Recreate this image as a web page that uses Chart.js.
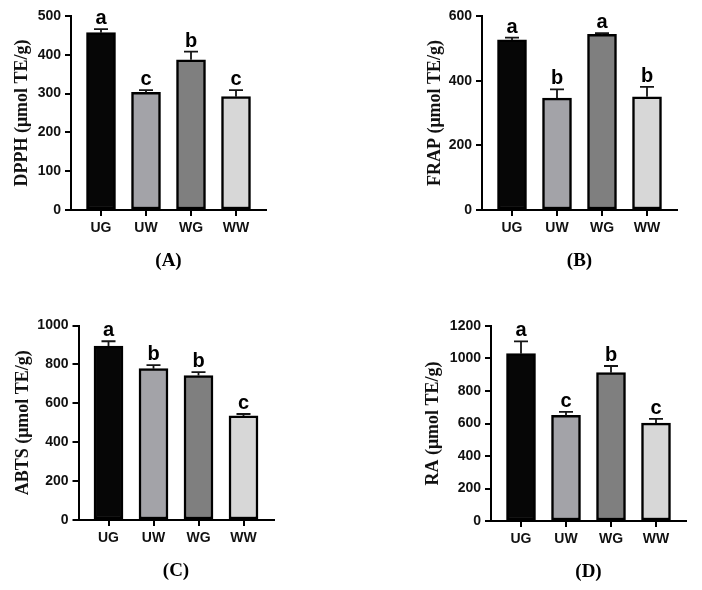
<!DOCTYPE html>
<html>
<head>
<meta charset="utf-8">
<script src="https://cdn.jsdelivr.net/npm/chart.js@4.4.0/dist/chart.umd.min.js"></script>
<style>
  body { margin: 0; background: #fff; }
  #wrap { position: relative; width: 702px; height: 590px; }
  canvas { position: absolute; }
</style>
</head>
<body>
<div id="wrap">
  <canvas id="chartA" width="351" height="295" style="left:0;top:0"></canvas>
  <canvas id="chartB" width="351" height="295" style="left:351px;top:0"></canvas>
  <canvas id="chartC" width="351" height="295" style="left:0;top:295px"></canvas>
  <canvas id="chartD" width="351" height="295" style="left:351px;top:295px"></canvas>
</div>
<script>
// data
const groups = ['UG', 'UW', 'WG', 'WW'];
const barColors = ['#060606', '#a3a3a8', '#7f7f7f', '#d7d7d7'];

const dpph = [457, 303, 387, 292];
const dpphErr = [9, 6, 21, 17];
const dpphLetters = ['a', 'c', 'b', 'c'];
const dpphTicks = [0, 100, 200, 300, 400, 500];

const frap = [526, 346, 543, 350];
const frapErr = [7, 27, 4, 31];
const frapLetters = ['a', 'b', 'a', 'b'];
const frapTicks = [0, 200, 400, 600];

const abts = [894, 778, 743, 535];
const abtsErr = [25, 18, 17, 10];
const abtsLetters = ['a', 'b', 'b', 'c'];
const abtsTicks = [0, 200, 400, 600, 800, 1000];

const ra = [1030, 650, 913, 602];
const raErr = [75, 21, 41, 27];
const raLetters = ['a', 'c', 'b', 'c'];
const raTicks = [0, 200, 400, 600, 800, 1000, 1200];

const sansBold = '"Liberation Sans", Arial, sans-serif';
const serifBold = '"Liberation Serif", "Times New Roman", serif';
const titleSize = 18;

function errorPlugin(values, errs, letters, panel) {
  return {
    id: 'errorBars',
    afterDatasetsDraw(chart) {
      const ctx = chart.ctx;
      const y = chart.scales.y;
      const meta = chart.getDatasetMeta(0);
      ctx.save();
      meta.data.forEach((bar, i) => {
        const top = y.getPixelForValue(values[i] + errs[i]);
        ctx.strokeStyle = '#151515';
        ctx.lineWidth = 1.8;
        ctx.beginPath();
        ctx.moveTo(bar.x, bar.y);
        ctx.lineTo(bar.x, top);
        ctx.moveTo(bar.x - 7, top);
        ctx.lineTo(bar.x + 7, top);
        ctx.stroke();
        ctx.fillStyle = '#000';
        ctx.font = 'bold 20px ' + sansBold;
        ctx.textAlign = 'center';
        ctx.textBaseline = 'alphabetic';
        ctx.fillText(letters[i], bar.x, top - 5);
      });
      const a = chart.chartArea;
      ctx.font = 'bold 19px ' + serifBold;
      ctx.textBaseline = 'middle';
      ctx.fillText(panel, (a.left + a.right) / 2, a.bottom + 51);
      ctx.restore();
    }
  };
}

function makePanel(id, box, values, errs, letters, yTicks, title, panel) {
  const padLeft = box.titleX - titleSize * 1.2 / 2;
  new Chart(document.getElementById(id), {
    type: 'bar',
    data: {
      datasets: [{
        data: values.map((v, i) => ({ x: i, y: v })),
        backgroundColor: barColors,
        borderColor: '#000',
        borderWidth: 2.5,
        borderSkipped: false,
        barThickness: 29
      }]
    },
    options: {
      responsive: false,
      animation: false,
      layout: { padding: { left: padLeft, top: box.top, right: 351 - box.right, bottom: 0 } },
      plugins: { legend: { display: false }, tooltip: { enabled: false } },
      scales: {
        x: {
          type: 'linear',
          offset: false,
          min: -2 / 3,
          max: 3 + 2 / 3,
          afterFit: s => { s.height = 295 - box.bottom; },
          grid: { offset: false, drawOnChartArea: false, drawTicks: true, tickLength: 6, color: '#000', lineWidth: 2 },
          border: { color: '#000', width: 2 },
          ticks: {
            stepSize: 1, includeBounds: false, autoSkip: false, maxRotation: 0, padding: 4,
            color: '#111', font: { family: sansBold, size: 14, weight: 'bold' },
            callback: v => groups[v]
          }
        },
        y: {
          min: yTicks[0],
          max: yTicks[yTicks.length - 1],
          afterFit: s => { s.width = box.left - padLeft; },
          grid: { drawOnChartArea: false, drawTicks: true, tickLength: 6, color: '#000', lineWidth: 2 },
          border: { color: '#000', width: 2 },
          ticks: {
            stepSize: yTicks[1] - yTicks[0], padding: 4,
            color: '#111', font: { family: sansBold, size: 14, weight: 'bold' },
            callback: v => String(v)
          },
          title: {
            display: true, text: title, color: '#111', padding: 0,
            font: { family: serifBold, size: titleSize, weight: 'bold' }
          }
        }
      }
    },
    plugins: [errorPlugin(values, errs, letters, panel)]
  });
}

makePanel('chartA', { left: 71, right: 266, top: 16, bottom: 210, titleX: 22 },
  dpph, dpphErr, dpphLetters, dpphTicks, 'DPPH (μmol TE/g)', '(A)');
makePanel('chartB', { left: 131, right: 326, top: 16, bottom: 210, titleX: 84 },
  frap, frapErr, frapLetters, frapTicks, 'FRAP (μmol TE/g)', '(B)');
makePanel('chartC', { left: 78.5, right: 273.5, top: 30.5, bottom: 225, titleX: 23.5 },
  abts, abtsErr, abtsLetters, abtsTicks, 'ABTS (μmol TE/g)', '(C)');
makePanel('chartD', { left: 140, right: 335, top: 31, bottom: 226, titleX: 82.5 },
  ra, raErr, raLetters, raTicks, 'RA (μmol TE/g)', '(D)');
</script>
</body>
</html>
